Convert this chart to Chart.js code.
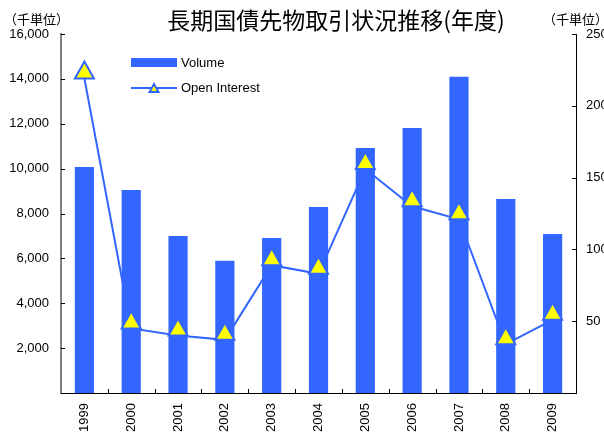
<!DOCTYPE html>
<html>
<head>
<meta charset="utf-8">
<script src="https://cdn.jsdelivr.net/npm/chart.js@4/dist/chart.umd.min.js"></script>
<style>
  body { margin: 0; background: #fff; }
  #wrap { width: 604px; height: 434px; }
</style>
</head>
<body>
<div id="wrap"><canvas id="futuresChart" width="604" height="434"></canvas></div>
<script>
const years = ['1999', '2000', '2001', '2002', '2003', '2004', '2005', '2006', '2007', '2008', '2009'];
const volume = [10070, 9050, 7000, 5890, 6910, 8290, 10920, 11810, 14090, 8650, 7090]; // 千単位
const openInterest = [219, 45, 40, 37, 89, 83, 156, 130, 121, 34, 51]; // 千単位

const titleText = '長期国債先物取引状況推移(年度)';
const unitText = '（千単位）';
const legendLabels = ['Volume', 'Open Interest'];

const BLUE = '#3366FF';
const YELLOW = '#FFFF00';
const NUM_FONT = '"Liberation Sans", Arial, "Noto Sans CJK JP", sans-serif';
const JP_FONT = '"Noto Sans CJK JP", sans-serif';

function triangle(ctx, x, y, w, h) {
    ctx.beginPath();
    ctx.moveTo(x, y - h);
    ctx.lineTo(x + w / 2, y);
    ctx.lineTo(x - w / 2, y);
    ctx.closePath();
    ctx.fillStyle = YELLOW;
    ctx.fill();
    ctx.strokeStyle = BLUE;
    ctx.lineWidth = 2;
    ctx.stroke();
}

// タイトル・単位・凡例・内向き目盛・三角マーカー
const decorations = {
    id: 'decorations',
    afterDatasetsDraw(chart) {
        const ctx = chart.ctx;
        const area = chart.chartArea;
        const sx = chart.scales.x;
        const sy = chart.scales.y;
        const sy1 = chart.scales.y1;
        ctx.save();

        // 目盛 (内向き)
        ctx.strokeStyle = '#000';
        ctx.lineWidth = 1;
        sy.ticks.forEach(t => {
            const y = Math.round(sy.getPixelForValue(t.value)) + 0.5;
            ctx.beginPath(); ctx.moveTo(area.left, y); ctx.lineTo(area.left + 4, y); ctx.stroke();
        });
        sy1.ticks.forEach(t => {
            const y = Math.round(sy1.getPixelForValue(t.value)) + 0.5;
            ctx.beginPath(); ctx.moveTo(area.right - 4, y); ctx.lineTo(area.right, y); ctx.stroke();
        });
        const step = (area.right - area.left) / years.length;
        for (let i = 1; i < years.length; i++) {
            const x = Math.round(sx.getPixelForValue(i) - step / 2) + 0.5;
            ctx.beginPath(); ctx.moveTo(x, area.bottom); ctx.lineTo(x, area.bottom - 4); ctx.stroke();
        }

        // 三角マーカー (底辺がデータ位置)
        const meta = chart.getDatasetMeta(1);
        meta.data.forEach(p => triangle(ctx, p.x, p.y, 19, 17));

        // タイトル
        ctx.fillStyle = '#000';
        ctx.textBaseline = 'middle';
        ctx.textAlign = 'center';
        ctx.font = '23px ' + JP_FONT;
        ctx.fillText(titleText, 336, 20);

        // 単位
        ctx.font = '13px ' + JP_FONT;
        ctx.textAlign = 'left';
        ctx.fillText(unitText, 4, 19);
        ctx.fillText(unitText, 543, 19);

        // 凡例
        ctx.fillStyle = BLUE;
        ctx.fillRect(131, 58, 46, 9);
        ctx.strokeStyle = BLUE;
        ctx.lineWidth = 2;
        ctx.beginPath(); ctx.moveTo(131, 88); ctx.lineTo(177, 88); ctx.stroke();
        triangle(ctx, 154, 92, 9, 8);
        ctx.fillStyle = '#000';
        ctx.font = '13px ' + NUM_FONT;
        ctx.fillText(legendLabels[0], 181, 63);
        ctx.fillText(legendLabels[1], 181, 88);

        ctx.restore();
    }
};

const fmt = v => v === 0 ? '' : v.toLocaleString('en-US');

new Chart(document.getElementById('futuresChart').getContext('2d'), {
    data: {
        labels: years,
        datasets: [
            {
                type: 'bar',
                label: legendLabels[0],
                data: volume,
                yAxisID: 'y',
                backgroundColor: BLUE,
                barPercentage: 0.41,
                categoryPercentage: 1.0,
                order: 1
            },
            {
                type: 'line',
                label: legendLabels[1],
                data: openInterest,
                yAxisID: 'y1',
                borderColor: BLUE,
                borderWidth: 2,
                pointRadius: 0,
                tension: 0,
                order: 2
            }
        ]
    },
    plugins: [decorations],
    options: {
        responsive: false,
        animation: false,
        layout: { padding: { top: 34, left: 0, right: 0, bottom: 0 } },
        plugins: {
            legend: { display: false },
            title: { display: false },
            tooltip: { enabled: false }
        },
        scales: {
            x: {
                offset: true,
                grid: { display: false, drawTicks: false },
                border: { color: '#000', width: 1 },
                ticks: {
                    color: '#000',
                    minRotation: 90,
                    maxRotation: 90,
                    padding: 10,
                    font: { family: NUM_FONT, size: 13 }
                },
                afterFit(scale) { scale.height = 41; }
            },
            y: {
                position: 'left',
                min: 0,
                max: 16000,
                grid: { display: false, drawTicks: false },
                border: { color: '#808080', width: 2 },
                ticks: {
                    stepSize: 2000,
                    color: '#000',
                    padding: 12,
                    font: { family: NUM_FONT, size: 13 },
                    callback: fmt
                },
                afterFit(scale) { scale.width = 61; }
            },
            y1: {
                position: 'right',
                min: 0,
                max: 250,
                grid: { display: false, drawTicks: false },
                border: { color: '#000', width: 1 },
                ticks: {
                    stepSize: 50,
                    color: '#000',
                    padding: 10,
                    font: { family: NUM_FONT, size: 13 },
                    callback: fmt
                },
                afterFit(scale) { scale.width = 28; }
            }
        }
    }
});
</script>
</body>
</html>
